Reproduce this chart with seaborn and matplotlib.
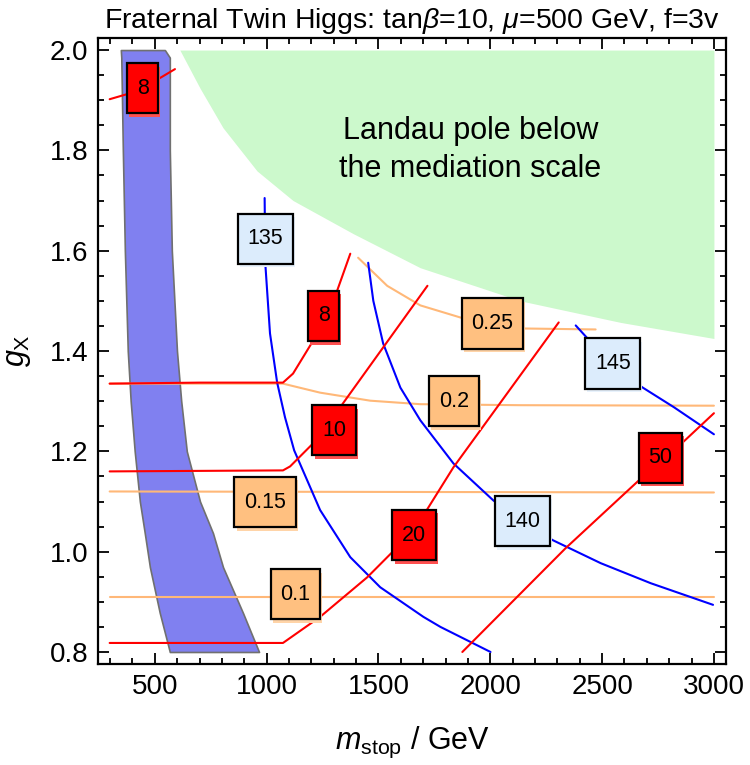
import matplotlib
matplotlib.use("Agg")
import matplotlib.pyplot as plt
import matplotlib.patheffects as pe
from matplotlib.path import Path
from matplotlib.ticker import MultipleLocator, FormatStrFormatter
import seaborn as sns

# ---- data (m_stop in GeV, g_X) ----
band_g = [2.0, 1.985, 1.8, 1.6, 1.4, 1.3, 1.2, 1.1, 1.037, 0.969, 0.878, 0.8]
band_left = [348, 350, 357, 366, 379, 392, 410, 433, 455, 478, 522, 567]
band_right = [545, 567, 567, 576, 599, 618, 643, 702, 760, 805, 894, 966]

landau_x = [612, 702, 805, 957, 1118, 1387, 1687, 2135, 2583, 3000]
landau_g = [2.0, 1.924, 1.845, 1.759, 1.70, 1.634, 1.566, 1.50, 1.457, 1.425]

# red contours
red8top_x = [298, 375, 522, 590]
red8top_g = [1.902, 1.912, 1.944, 1.962]
red8_x = [298, 702, 1073, 1118, 1203, 1315, 1374]
red8_g = [1.335, 1.337, 1.337, 1.355, 1.417, 1.520, 1.594]
red10_x = [298, 1073, 1105, 1208, 1329, 1719]
red10_g = [1.160, 1.162, 1.170, 1.216, 1.288, 1.530]
red20_x = [298, 1073, 1239, 1450, 1660, 1835, 2306]
red20_g = [0.818, 0.818, 0.870, 0.949, 1.043, 1.168, 1.457]
red50_x = [1875, 2337, 2664, 2861, 3000]
red50_g = [0.8, 1.007, 1.142, 1.218, 1.276]

# blue contours (higgs mass)
blue135_x = [991, 994, 1015, 1047, 1082, 1123, 1239, 1374, 1508, 1701, 1777, 2001]
blue135_g = [1.705, 1.574, 1.435, 1.337, 1.268, 1.202, 1.083, 0.989, 0.929, 0.870, 0.850, 0.8]
blue140_x = [1454, 1477, 1521, 1598, 1687, 1835, 2014, 2144, 2279, 2494, 2718, 2996]
blue140_g = [1.576, 1.5, 1.415, 1.327, 1.262, 1.176, 1.102, 1.061, 1.023, 0.977, 0.937, 0.894]
blue145_x = [2382, 2435, 2548, 2682, 2821, 3000]
blue145_g = [1.451, 1.425, 1.370, 1.327, 1.288, 1.234]

# orange contours
or10_x = [298, 3000]
or10_g = [0.909, 0.909]
or15_x = [298, 3000]
or15_g = [1.120, 1.118]
or20_x = [298, 1073, 1239, 1463, 1687, 2135, 3000]
or20_g = [1.335, 1.335, 1.317, 1.301, 1.294, 1.292, 1.291]
or25_x = [1409, 1539, 1687, 1880, 2135, 2471]
or25_g = [1.586, 1.530, 1.491, 1.465, 1.445, 1.443]

# contour labels
red_lab = ["8", "8", "10", "20", "50"]
red_lab_x = [446, 1255, 1302, 1660, 2760]
red_lab_g = [1.924, 1.470, 1.242, 1.033, 1.187]
blue_lab = ["135", "140", "145"]
blue_lab_x = [993, 2144, 2548]
blue_lab_g = [1.624, 1.061, 1.375]
or_lab = ["0.1", "0.15", "0.2", "0.25"]
or_lab_x = [1129, 993, 1837, 2010]
or_lab_g = [0.915, 1.099, 1.300, 1.455]

sns.set_theme(style="ticks")
plt.rcParams["font.family"] = ["Liberation Sans", "DejaVu Sans"]
plt.rcParams["mathtext.fontset"] = "custom"
plt.rcParams["mathtext.rm"] = "Liberation Sans"
plt.rcParams["mathtext.it"] = "Liberation Sans:italic"
for k in ["text.color", "axes.labelcolor", "xtick.color", "ytick.color"]:
    plt.rcParams[k] = "black"

fig = plt.figure(figsize=(7.5, 7.65), dpi=100)
ax = fig.add_axes([0.1307, 0.1320, 0.8373, 0.8183])

# shaded regions
ax.fill_betweenx(band_g, band_left, band_right, facecolor="#8080f0",
                 edgecolor="#707070", lw=1.2, zorder=1)
ax.fill_between(landau_x, landau_g, 2.0, color="#ccf9cc", lw=0, zorder=1)
ax.text(1911, 1.80, "Landau pole below\nthe mediation scale", ha="center",
        va="center", fontsize=22, linespacing=1.35, zorder=2)

# contour lines
lines = [
    (or10_x, or10_g, "#ffb878"), (or15_x, or15_g, "#ffb878"),
    (or20_x, or20_g, "#ffb878"), (or25_x, or25_g, "#ffb878"),
    (blue135_x, blue135_g, "#0000ff"), (blue140_x, blue140_g, "#0000ff"),
    (blue145_x, blue145_g, "#0000ff"),
    (red8top_x, red8top_g, "#ff0000"), (red8_x, red8_g, "#ff0000"),
    (red10_x, red10_g, "#ff0000"), (red20_x, red20_g, "#ff0000"),
    (red50_x, red50_g, "#ff0000"),
]
for xs, gs, c in lines:
    sns.lineplot(x=xs, y=gs, sort=False, estimator=None, color=c, lw=1.5, ax=ax, zorder=3)


def tall_box(x0, y0, width, height, mutation_size):
    # rectangle with more padding vertically than horizontally
    px, py = 0.45 * mutation_size, 0.68 * mutation_size
    x0, y0 = x0 - px, y0 - py
    x1, y1 = x0 + width + 2 * px, y0 + height + 2 * py
    return Path([(x0, y0), (x1, y0), (x1, y1), (x0, y1), (x0, y0)], closed=True)


def tag(x, g, s, face, shadow):
    t = ax.text(x, g, s, ha="center", va="center", fontsize=15.5, zorder=6,
                bbox=dict(boxstyle=tall_box, fc=face, ec="black", lw=1.6))
    t.get_bbox_patch().set_path_effects([
        pe.SimplePatchShadow(offset=(1.5, -2.5), shadow_rgbFace=shadow, alpha=1),
        pe.Normal()])


for s, x, g in zip(red_lab, red_lab_x, red_lab_g):
    tag(x, g, s, "#ff0000", "#ff5050")
for s, x, g in zip(blue_lab, blue_lab_x, blue_lab_g):
    tag(x, g, s, "#dcecfc", "#e8f2fc")
for s, x, g in zip(or_lab, or_lab_x, or_lab_g):
    tag(x, g, s, "#ffc080", "#ffd4a8")

ax.set_xlim(246, 3054)
ax.set_ylim(0.776, 2.024)
ax.xaxis.set_major_locator(MultipleLocator(500))
ax.xaxis.set_minor_locator(MultipleLocator(100))
ax.yaxis.set_major_locator(MultipleLocator(0.2))
ax.yaxis.set_minor_locator(MultipleLocator(0.05))
ax.yaxis.set_major_formatter(FormatStrFormatter("%.1f"))
ax.tick_params(which="both", direction="in", top=True, right=True,
               color="black", width=1.3, labelsize=20, pad=7)
ax.tick_params(which="major", length=8)
ax.tick_params(which="minor", length=4.5)
for sp in ax.spines.values():
    sp.set_color("black")
    sp.set_linewidth(1.6)

ax.set_xlabel(r"$m_{\rm stop}$ / GeV", fontsize=22, labelpad=18)
ax.set_ylabel(r"$g_{\rm X}$", fontsize=22, labelpad=12)
ax.set_title(r"Fraternal Twin Higgs: tan$\beta$=10, $\mu$=500 GeV, f=3v",
             fontsize=20.5, pad=7)

fig.savefig("out.png", dpi=100)
